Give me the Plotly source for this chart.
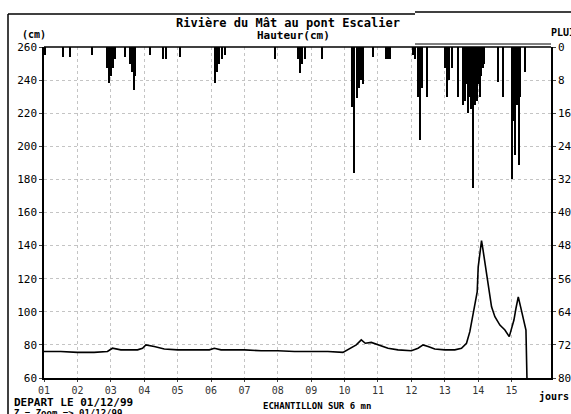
import plotly.graph_objects as go

# Water level (cm) vs day
level_day = [1.0, 1.5, 2.0, 2.5, 2.9, 3.05, 3.3, 3.8, 3.95, 4.05, 4.3, 4.6, 5.0, 5.5, 5.95, 6.1, 6.3,
             7.0, 7.5, 8.0, 8.5, 9.0, 9.5, 9.95, 10.15, 10.35, 10.5, 10.62, 10.8, 11.0, 11.3, 11.6,
             12.0, 12.2, 12.35, 12.5, 12.7, 13.0, 13.3, 13.5, 13.65, 13.75, 13.85, 13.92, 13.97,
             14.0, 14.05, 14.1, 14.14, 14.2, 14.3, 14.4, 14.5, 14.65, 14.8, 14.93, 15.0, 15.07,
             15.13, 15.2, 15.27, 15.35, 15.43, 15.46]
level_cm = [76, 76, 75.5, 75.5, 76, 78, 77, 77, 78, 80, 79, 77.5, 77, 77, 77, 78, 77,
            77, 76.5, 76.5, 76, 76, 76, 75.5, 78, 80, 83, 81, 81.5, 80, 78, 77,
            76.5, 78, 80, 79, 77.5, 77, 77, 78, 81, 88, 100, 107, 112,
            127, 136, 143, 138, 130, 115, 103, 97, 92, 89, 85, 90, 95,
            102, 109, 103, 95, 89, 60]

# Rainfall (mm) vs day
rain_day = [1.03, 1.57, 1.78, 2.44, 2.89, 2.95, 3.01, 3.07, 3.13, 3.43, 3.57, 3.63, 3.69, 3.72,
            4.17, 4.56, 4.65, 5.07, 6.12, 6.18, 6.24, 6.33, 6.42, 7.92, 8.60, 8.66, 8.72, 8.81,
            9.32, 10.22, 10.28, 10.37, 10.43, 10.49, 10.55, 10.85, 11.24, 11.30, 11.36,
            12.05, 12.11, 12.20, 12.26, 12.32, 12.47, 13.01, 13.07, 13.13, 13.22, 13.40,
            13.54, 13.58, 13.62, 13.66, 13.70, 13.74, 13.78, 13.82, 13.86, 13.90, 13.94, 13.98,
            14.02, 14.06, 14.10, 14.14, 14.18, 14.59, 14.74,
            15.01, 15.04, 15.10, 15.16, 15.22, 15.25, 15.40]
rain_mm = [2, 2.5, 2.5, 2, 5, 8.7, 7, 5, 3, 2.5, 4, 6, 10.4, 7,
           2, 3, 3, 2.5, 8.7, 6, 4, 3, 2, 3, 3, 6.3, 4, 3,
           3, 14.5, 30.5, 12.4, 10, 8, 9, 2.5, 3, 3, 3,
           2, 3, 12, 22.5, 10, 12, 5, 12, 8, 5, 12,
           14, 8, 13, 9, 16, 12, 15, 10, 34, 14, 11, 13,
           9, 12, 7, 5, 4, 8.5, 12,
           32, 18, 26, 14, 28.5, 12, 6]

day_ticks = list(range(1, 16))
day_labels = ["%02d" % d for d in day_ticks]
cm_ticks = list(range(60, 261, 20))
rain_ticks = list(range(0, 81, 8))

FONT = "DejaVu Sans Mono"

fig = go.Figure()
fig.add_trace(go.Bar(x=rain_day, y=rain_mm, yaxis="y2", width=0.035,
                     marker=dict(color="black", line=dict(width=0)), showlegend=False))
fig.add_trace(go.Scatter(x=level_day, y=level_cm, mode="lines",
                         line=dict(color="black", width=1.6), showlegend=False))

L, R, T, B = 44, 20, 47, 36
W, H = 571, 414
pw, ph = W - L - R, H - T - B

def px(x):
    return (x - L) / pw

def py(y):
    return (H - B - y) / ph

grid = dict(showgrid=True, gridcolor="#c4c4c4", griddash="dot", gridwidth=1)

fig.update_layout(
    width=W, height=H,
    margin=dict(l=L, r=R, t=T, b=B, autoexpand=False),
    paper_bgcolor="white", plot_bgcolor="white",
    font=dict(family=FONT, color="black", size=11),
    bargap=0,
    xaxis=dict(range=[1, 16.18], tickvals=day_ticks, ticktext=day_labels, automargin=False,
               showline=True, linecolor="black", linewidth=1.5, ticks="outside",
               ticklen=2, tickfont=dict(size=10, color="#333"), zeroline=False, **grid),
    yaxis=dict(range=[60, 260], tickvals=cm_ticks, showline=True, linecolor="black",
               linewidth=1.5, ticks="outside", ticklen=3, zeroline=False, automargin=False,
               tickfont=dict(size=11), **grid),
    yaxis2=dict(range=[80, 0], tickvals=rain_ticks, overlaying="y", side="right",
                showline=True, linecolor="black", linewidth=1.5, ticks="outside", automargin=False,
                ticklen=3, showgrid=False, zeroline=False, tickfont=dict(size=11)),
)

# Plot top border
fig.add_shape(type="line", xref="paper", yref="paper", x0=0, x1=1, y0=1, y1=1,
              line=dict(color="black", width=1.5))
# Outer frame lines
fig.add_shape(type="line", xref="paper", yref="paper", x0=px(8), x1=px(8), y0=py(14), y1=py(420),
              line=dict(color="black", width=1.5))
fig.add_shape(type="line", xref="paper", yref="paper", x0=px(8), x1=px(415), y0=py(14), y1=py(14),
              line=dict(color="black", width=1.5))
fig.add_shape(type="line", xref="paper", yref="paper", x0=px(415), x1=px(580), y0=py(12), y1=py(12),
              line=dict(color="black", width=1.5))
fig.add_shape(type="line", xref="paper", yref="paper", x0=px(415), x1=px(551), y0=py(44), y1=py(44),
              line=dict(color="black", width=1))

def text(x, y, s, size=11, anchor="center"):
    fig.add_annotation(xref="paper", yref="paper", x=px(x), y=py(y), text=s, showarrow=False,
                       xanchor=anchor, yanchor="middle", font=dict(family=FONT, size=size, color="black"))

text(288, 23, "<b>Rivière du Mât au pont Escalier</b>", size=12)
text(293, 35, "<b>Hauteur(cm)</b>", size=11)
text(20, 34, "<b>(cm)</b>", size=10, anchor="left")
text(549, 33, "<b>PLUIE</b>", size=10, anchor="left")
text(12, 402, "<b>DEPART LE 01/12/99</b>", size=11, anchor="left")
text(12, 413, "<b>Z = Zoom => 01/12/99</b>", size=9, anchor="left")
text(317, 406, "<b>ECHANTILLON SUR 6 mn</b>", size=9)
text(537, 396, "<b>jours</b>", size=10, anchor="left")

fig.write_html("out.html", config={"displayModeBar": False},
               post_script="document.body.style.margin='0';")
